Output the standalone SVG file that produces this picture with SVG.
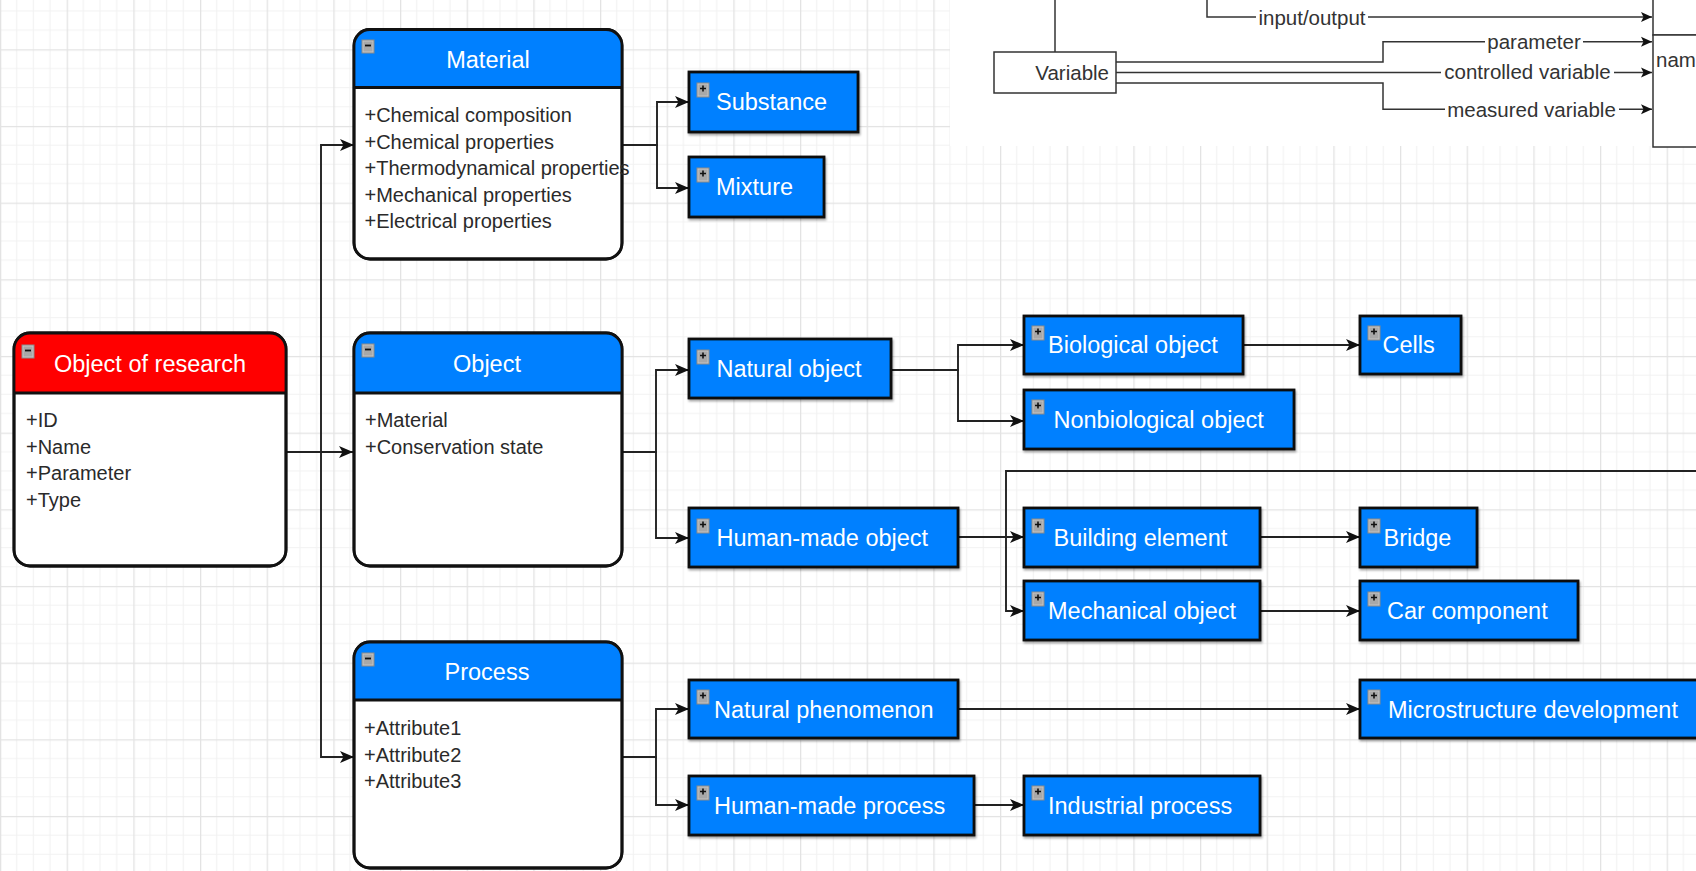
<svg xmlns="http://www.w3.org/2000/svg" width="1696" height="871" viewBox="0 0 1696 871">
<style>
.t{font-family:"Liberation Sans",Arial,sans-serif}
.title{font-size:23.5px;fill:#fff;text-anchor:middle}
.item{font-size:20px;fill:#2a2a2a}
.bt{font-size:23.5px;fill:#fff}
.lbl{font-size:20.5px;fill:#333}
.cls{fill:#fff;stroke:#111;stroke-width:2.8}
.hdrline{stroke:#111;stroke-width:2.8}
.blue{fill:#0080ff;stroke:#111;stroke-width:2.8;filter:url(#sh)}
.edge{fill:none;stroke:#222;stroke-width:1.9;marker-end:url(#arr)}
.edge2{fill:none;stroke:#333;stroke-width:1.5}
.edge2a{fill:none;stroke:#333;stroke-width:1.5;marker-end:url(#arr2)}
</style>
<defs>
<pattern id="grid" width="66.667" height="76.667" patternUnits="userSpaceOnUse" x="0" y="49.3">
<path d="M16.67 0V76.667M33.33 0V76.667M50 0V76.667M0 19.17H66.667M0 38.33H66.667M0 57.5H66.667" stroke="#f2f2f2" stroke-width="1.2" fill="none"/>
<path d="M0.6 0V76.667M0 0.6H66.667" stroke="#e3e3e3" stroke-width="1.4" fill="none"/>
</pattern>
<filter id="sh" x="-5%" y="-10%" width="115%" height="130%">
<feDropShadow dx="1" dy="2" stdDeviation="0.8" flood-color="#000" flood-opacity="0.35"/>
</filter>
<marker id="arr" markerWidth="16" markerHeight="14" refX="14" refY="7" orient="auto" markerUnits="userSpaceOnUse">
<path d="M0,1 L14,7 L0,13 L3.5,7 Z" fill="#111"/>
</marker>
<marker id="arr2" markerWidth="13" markerHeight="12" refX="11" refY="6" orient="auto" markerUnits="userSpaceOnUse">
<path d="M0,1 L11,6 L0,11 L2.5,6 Z" fill="#111"/>
</marker>
<g id="minus">
<rect x="0" y="0" width="12" height="13" fill="#c4c4c4" stroke="#8a8a8a" stroke-width="1"/>
<rect x="1.5" y="1.5" width="9" height="10" fill="#a8a8a8"/>
<path d="M3 5.5H9" stroke="#111" stroke-width="1.8"/>
</g>
<g id="plus">
<rect x="0" y="0" width="12" height="14" fill="#c4c4c4" stroke="#8a8a8a" stroke-width="1"/>
<rect x="1.5" y="1.5" width="9" height="11" fill="#a8a8a8"/>
<path d="M3 5.5H9M6 2.5V8.5" stroke="#111" stroke-width="1.6"/>
</g>
</defs>

<rect x="0" y="0" width="1696" height="871" fill="#fff"/>
<rect x="0" y="0" width="1696" height="871" fill="url(#grid)"/>
<rect x="950" y="0" width="746" height="146" fill="#fff"/>

<g id="connectors">
<path class="edge" d="M286 452H321V145H354"/>
<path class="edge" d="M286 452H353"/>
<path class="edge" d="M286 452H321V757H354"/>
<path class="edge" d="M622 145H657V102H689"/>
<path class="edge" d="M622 145H657V188H689"/>
<path class="edge" d="M622 452H656V370H689"/>
<path class="edge" d="M622 452H656V538H689"/>
<path class="edge" d="M891 370H958V345H1024"/>
<path class="edge" d="M891 370H958V421H1024"/>
<path class="edge" d="M1243 345H1360"/>
<path class="edge" d="M958 537H1024"/>
<path class="edge" d="M1700 471H1006V611H1024"/>
<path class="edge" d="M1260 537H1360"/>
<path class="edge" d="M1260 611H1360"/>
<path class="edge" d="M622 757H656V709H689"/>
<path class="edge" d="M622 757H656V805H689"/>
<path class="edge" d="M958 709H1360"/>
<path class="edge" d="M974 805H1024"/>
<path class="edge2" d="M1055 0V52"/>
<path class="edge2a" d="M1207 -2V17H1652"/>
<path class="edge2a" d="M1116 62H1383V41.7H1652"/>
<path class="edge2a" d="M1116 72.5H1652"/>
<path class="edge2a" d="M1116 83H1383V109.3H1652"/>
<g fill="#fff">
<rect x="1256" y="7" width="112" height="20"/>
<rect x="1485" y="32" width="98" height="19"/>
<rect x="1441" y="62" width="173" height="20"/>
<rect x="1445" y="99" width="174" height="20"/>
</g>
<g class="t lbl" text-anchor="middle">
<text x="1312" y="24.5">input/output</text>
<text x="1534" y="49">parameter</text>
<text x="1527.5" y="79">controlled variable</text>
<text x="1531.5" y="116.5">measured variable</text>
</g>
</g>

<g id="variable">
<rect x="994" y="52" width="122" height="41" fill="#fff" stroke="#333" stroke-width="1.5"/>
<text class="t lbl" x="1109" y="80" text-anchor="end">Variable</text>
</g>
<g id="name-box">
<rect x="1653" y="-2" width="60" height="37" fill="#fff" stroke="#333" stroke-width="1.5"/>
<rect x="1653" y="35" width="60" height="112" fill="#fff" stroke="#333" stroke-width="1.5"/>
<text class="t lbl" x="1656" y="67">nam</text>
</g>

<g id="object-of-research">
<rect class="cls" x="14" y="333" width="272" height="233" rx="16"/>
<path d="M14 393V349A16 16 0 0 1 30 333H270A16 16 0 0 1 286 349V393Z" fill="#ff0000"/>
<path class="hdrline" d="M14 393H286"/>
<rect x="14" y="333" width="272" height="233" rx="16" fill="none" stroke="#111" stroke-width="2.8"/>
<use href="#minus" x="22" y="345"/>
<text class="t title" x="150" y="372">Object of research</text>
<text class="t item" x="26" y="427">+ID</text>
<text class="t item" x="26" y="453.5">+Name</text>
<text class="t item" x="26" y="480">+Parameter</text>
<text class="t item" x="26" y="506.5">+Type</text>
</g>

<g id="material">
<rect class="cls" x="354" y="29.5" width="268" height="229.5" rx="16"/>
<path d="M354 87.5V45.5A16 16 0 0 1 370 29.5H606A16 16 0 0 1 622 45.5V87.5Z" fill="#0080ff"/>
<path class="hdrline" d="M354 87.5H622"/>
<rect x="354" y="29.5" width="268" height="229.5" rx="16" fill="none" stroke="#111" stroke-width="2.8"/>
<use href="#minus" x="362" y="40"/>
<text class="t title" x="488" y="68">Material</text>
<text class="t item" x="364.5" y="122">+Chemical composition</text>
<text class="t item" x="364.5" y="148.5">+Chemical properties</text>
<text class="t item" x="364.5" y="175">+Thermodynamical properties</text>
<text class="t item" x="364.5" y="201.5">+Mechanical properties</text>
<text class="t item" x="364.5" y="228">+Electrical properties</text>
</g>

<g id="object">
<rect class="cls" x="354" y="333" width="268" height="233" rx="16"/>
<path d="M354 393V349A16 16 0 0 1 370 333H606A16 16 0 0 1 622 349V393Z" fill="#0080ff"/>
<path class="hdrline" d="M354 393H622"/>
<rect x="354" y="333" width="268" height="233" rx="16" fill="none" stroke="#111" stroke-width="2.8"/>
<use href="#minus" x="362" y="344"/>
<text class="t title" x="487" y="372">Object</text>
<text class="t item" x="365" y="427">+Material</text>
<text class="t item" x="365" y="453.5">+Conservation state</text>
</g>

<g id="process">
<rect class="cls" x="354" y="642" width="268" height="226" rx="16"/>
<path d="M354 700V658A16 16 0 0 1 370 642H606A16 16 0 0 1 622 658V700Z" fill="#0080ff"/>
<path class="hdrline" d="M354 700H622"/>
<rect x="354" y="642" width="268" height="226" rx="16" fill="none" stroke="#111" stroke-width="2.8"/>
<use href="#minus" x="362" y="653"/>
<text class="t title" x="487" y="680">Process</text>
<text class="t item" x="364" y="735">+Attribute1</text>
<text class="t item" x="364" y="761.5">+Attribute2</text>
<text class="t item" x="364" y="788">+Attribute3</text>
</g>

<g id="substance"><rect class="blue" x="689" y="72" width="169" height="60"/><use href="#plus" x="697" y="83"/><text class="t bt" x="716" y="110">Substance</text></g>
<g id="mixture"><rect class="blue" x="689" y="157" width="135" height="60"/><use href="#plus" x="697" y="168"/><text class="t bt" x="716" y="195">Mixture</text></g>
<g id="natural-object"><rect class="blue" x="689" y="339" width="202" height="59"/><use href="#plus" x="697" y="350"/><text class="t bt" x="716.5" y="377">Natural object</text></g>
<g id="human-made-object"><rect class="blue" x="689" y="508" width="269" height="59"/><use href="#plus" x="697" y="519"/><text class="t bt" x="716.5" y="546">Human-made object</text></g>
<g id="biological-object"><rect class="blue" x="1024" y="316" width="219" height="58"/><use href="#plus" x="1032" y="326"/><text class="t bt" x="1048" y="353">Biological object</text></g>
<g id="nonbiological-object"><rect class="blue" x="1024" y="390" width="270" height="59"/><use href="#plus" x="1032" y="400"/><text class="t bt" x="1053.5" y="428">Nonbiological object</text></g>
<g id="cells"><rect class="blue" x="1360" y="316" width="101" height="58"/><use href="#plus" x="1368" y="326"/><text class="t bt" x="1382.5" y="353">Cells</text></g>
<g id="building-element"><rect class="blue" x="1024" y="508" width="236" height="59"/><use href="#plus" x="1032" y="519"/><text class="t bt" x="1053.5" y="546">Building element</text></g>
<g id="bridge"><rect class="blue" x="1360" y="508" width="117" height="59"/><use href="#plus" x="1368" y="519"/><text class="t bt" x="1383.5" y="546">Bridge</text></g>
<g id="mechanical-object"><rect class="blue" x="1024" y="581" width="236" height="59"/><use href="#plus" x="1032" y="592"/><text class="t bt" x="1048" y="619">Mechanical object</text></g>
<g id="car-component"><rect class="blue" x="1360" y="581" width="218" height="59"/><use href="#plus" x="1368" y="592"/><text class="t bt" x="1387" y="619">Car component</text></g>
<g id="natural-phenomenon"><rect class="blue" x="689" y="680" width="269" height="58"/><use href="#plus" x="697" y="690"/><text class="t bt" x="714" y="717.5">Natural phenomenon</text></g>
<g id="microstructure-development"><rect class="blue" x="1360" y="680" width="350" height="58"/><use href="#plus" x="1368" y="690"/><text class="t bt" x="1388" y="717.5">Microstructure development</text></g>
<g id="human-made-process"><rect class="blue" x="689" y="776" width="285" height="59"/><use href="#plus" x="697" y="786"/><text class="t bt" x="714" y="814">Human-made process</text></g>
<g id="industrial-process"><rect class="blue" x="1024" y="776" width="236" height="59"/><use href="#plus" x="1032" y="786"/><text class="t bt" x="1048" y="814">Industrial process</text></g>
</svg>
